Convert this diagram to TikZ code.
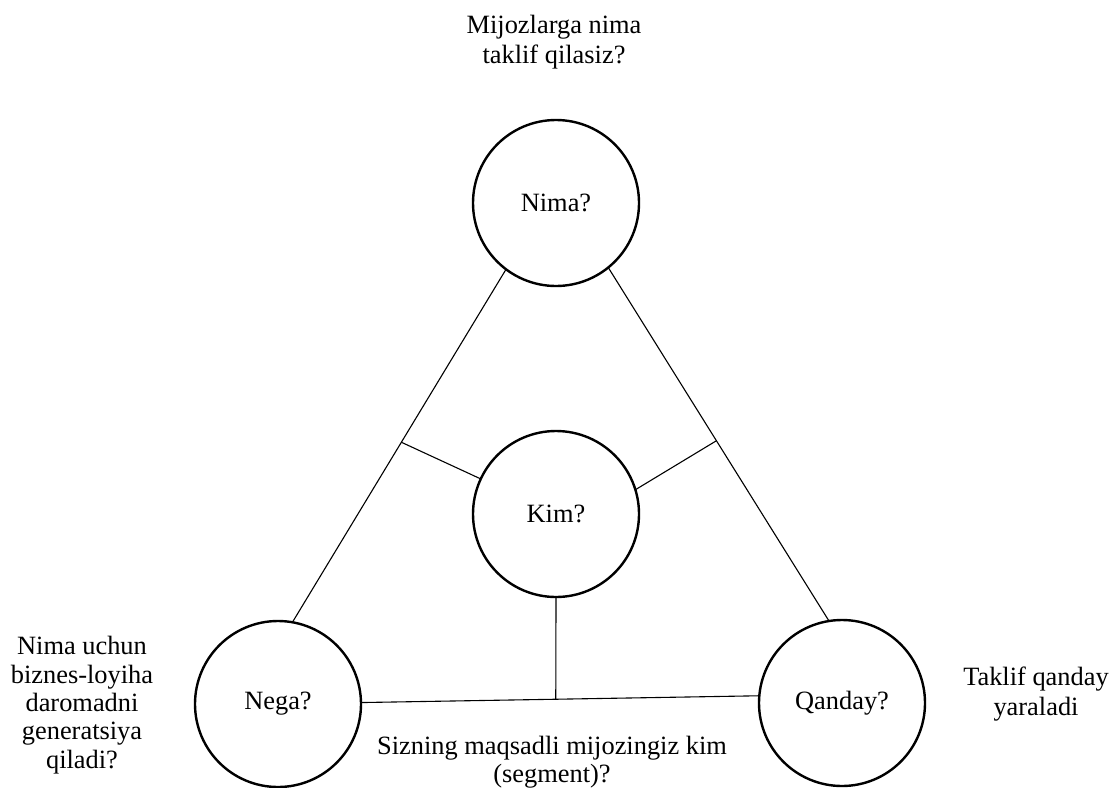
\documentclass[tikz,border=0pt]{standalone}
\usepackage{fontspec}
\setmainfont{Liberation Serif}
\usetikzlibrary{calc}
\begin{document}
\begin{tikzpicture}[x=1pt,y=-1pt,
  bigfont/.style={font=\fontsize{26.4pt}{30pt}\selectfont},
  ring/.style={circle,draw,line width=2.4pt,minimum size=166pt,inner sep=0pt,outer sep=0pt,bigfont},
  link/.style={line width=1.1pt},
  caption/.style={align=center,inner sep=0pt,anchor=base,bigfont}]
  \useasboundingbox (0,0) rectangle (1113,787);

  % four question circles
  \node[ring] (nima)   at (556,203) {Nima?};
  \node[ring] (kim)    at (556,514) {Kim?};
  \node[ring] (nega)   at (278,704) {Nega?};
  \node[ring] (qanday) at (842,703) {Qanday?};

  % outer triangle
  \draw[link] (nima.233) -- (nega.80);
  \draw[link] (nima.309) -- (qanday.99);
  \draw[link] (nega.1) -- (qanday.175);

  % spokes from the centre circle to the triangle sides
  \coordinate (jl) at ($(nima.233)!0.49!(nega.80)$);
  \coordinate (jr) at ($(nima.309)!0.49!(qanday.99)$);
  \coordinate (jb) at ($(nega.1)!0.489!(qanday.175)$);
  \draw[link] (jl) -- (kim.155);
  \draw[link] (jr) -- (kim.17);
  \draw[link] (kim.south) -- (jb);

  % explanatory captions (positioned by the baseline of their last line)
  \node[caption] (qtop) at (554,63) {Mijozlarga nima\\taklif qilasiz?};
  \node[caption,font=\fontsize{26.4pt}{28.3pt}\selectfont] (qleft) at (82,768)
    {Nima uchun\\biznes-loyiha\\daromadni\\generatsiya\\qiladi?};
  \node[caption] (qright) at (1036,715) {Taklif qanday\\yaraladi};
  \node[caption,font=\fontsize{26.4pt}{28pt}\selectfont] (qbottom) at (552,782)
    {Sizning maqsadli mijozingiz kim\\(segment)?};
\end{tikzpicture}
\end{document}
